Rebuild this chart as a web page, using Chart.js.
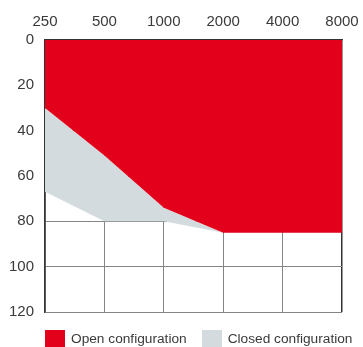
<!DOCTYPE html>
<html>
<head>
<meta charset="utf-8">
<script src="https://cdn.jsdelivr.net/npm/chart.js@4"></script>
<style>
  html, body { margin: 0; padding: 0; background: #fff; }
  #wrap { position: relative; width: 363px; height: 347px; overflow: hidden; }
  #c { position: absolute; left: 0; top: 0; }
  #legend { position: absolute; left: 45px; top: 330px; display: flex; align-items: center;
            font-family: "Liberation Sans", Arial, sans-serif; font-size: 13.7px; color: #3a3a3a; line-height: 17px; white-space: nowrap; }
  .sw { display: inline-block; width: 20px; height: 17px; margin-right: 6px; }
  .it { display: flex; align-items: center; margin-right: 15px; }
</style>
</head>
<body>
<div id="wrap">
  <canvas id="c" width="363" height="347"></canvas>
  <div id="legend"></div>
</div>
<script>
const frequencies = ['250', '500', '1000', '2000', '4000', '8000'];
const openConfiguration = [30, 51, 74, 85, 85, 85];
const closedConfiguration = [67, 80, 80, 85, 85, 85];
const seriesNames = ['Open configuration', 'Closed configuration'];
const seriesColors = ['#e2001a', '#d4dbdf'];

const frameColor = '#333333';
const gridColor = '#858585';
const textColor = '#3a3a3a';
const fontFamily = '"Liberation Sans", Arial, sans-serif';

const chart = new Chart(document.getElementById('c'), {
  type: 'line',
  data: {
    labels: frequencies,
    datasets: [
      {
        label: seriesNames[0],
        data: openConfiguration,
        backgroundColor: seriesColors[0],
        borderColor: seriesColors[0],
        borderWidth: 0,
        pointRadius: 0,
        tension: 0,
        fill: { value: 0 }
      },
      {
        label: seriesNames[1],
        data: closedConfiguration,
        backgroundColor: seriesColors[1],
        borderColor: seriesColors[1],
        borderWidth: 0,
        pointRadius: 0,
        tension: 0,
        fill: '-1'
      }
    ]
  },
  options: {
    responsive: false,
    devicePixelRatio: 1,
    animation: false,
    layout: { padding: { left: 0, right: 21, top: 0, bottom: 35 } },
    plugins: { legend: { display: false }, tooltip: { enabled: false } },
    scales: {
      x: {
        type: 'category',
        position: 'top',
        offset: false,
        z: 1,
        afterFit: s => { s.height = 40; s.paddingLeft = 0; s.paddingRight = 0; },
        grid: {
          offset: false,
          drawTicks: false,
          lineWidth: ctx => (ctx.index === frequencies.length - 1 ? 1.5 : 1),
          color: ctx => (ctx.index === frequencies.length - 1 ? frameColor : gridColor)
        },
        border: { display: true, color: frameColor, width: 1.5 },
        ticks: { padding: 9, color: textColor, font: { family: fontFamily, size: 15 }, maxRotation: 0, autoSkip: false }
      },
      y: {
        reverse: true,
        min: 0,
        max: 120,
        z: 1,
        afterFit: s => { s.width = 45; s.paddingTop = 0; s.paddingBottom = 0; },
        grid: {
          drawTicks: false,
          lineWidth: ctx => (ctx.index === 6 ? 1.5 : 1),
          color: ctx => (ctx.index === 6 ? frameColor : gridColor)
        },
        border: { display: true, color: frameColor, width: 1.5 },
        ticks: { stepSize: 20, padding: 11, color: textColor, font: { family: fontFamily, size: 15 } }
      }
    }
  }
});

const legendEl = document.getElementById('legend');
chart.data.datasets.forEach(ds => {
  const it = document.createElement('span');
  it.className = 'it';
  const sw = document.createElement('span');
  sw.className = 'sw';
  sw.style.background = ds.backgroundColor;
  const tx = document.createElement('span');
  tx.textContent = ds.label;
  it.appendChild(sw);
  it.appendChild(tx);
  legendEl.appendChild(it);
});
</script>
</body>
</html>
